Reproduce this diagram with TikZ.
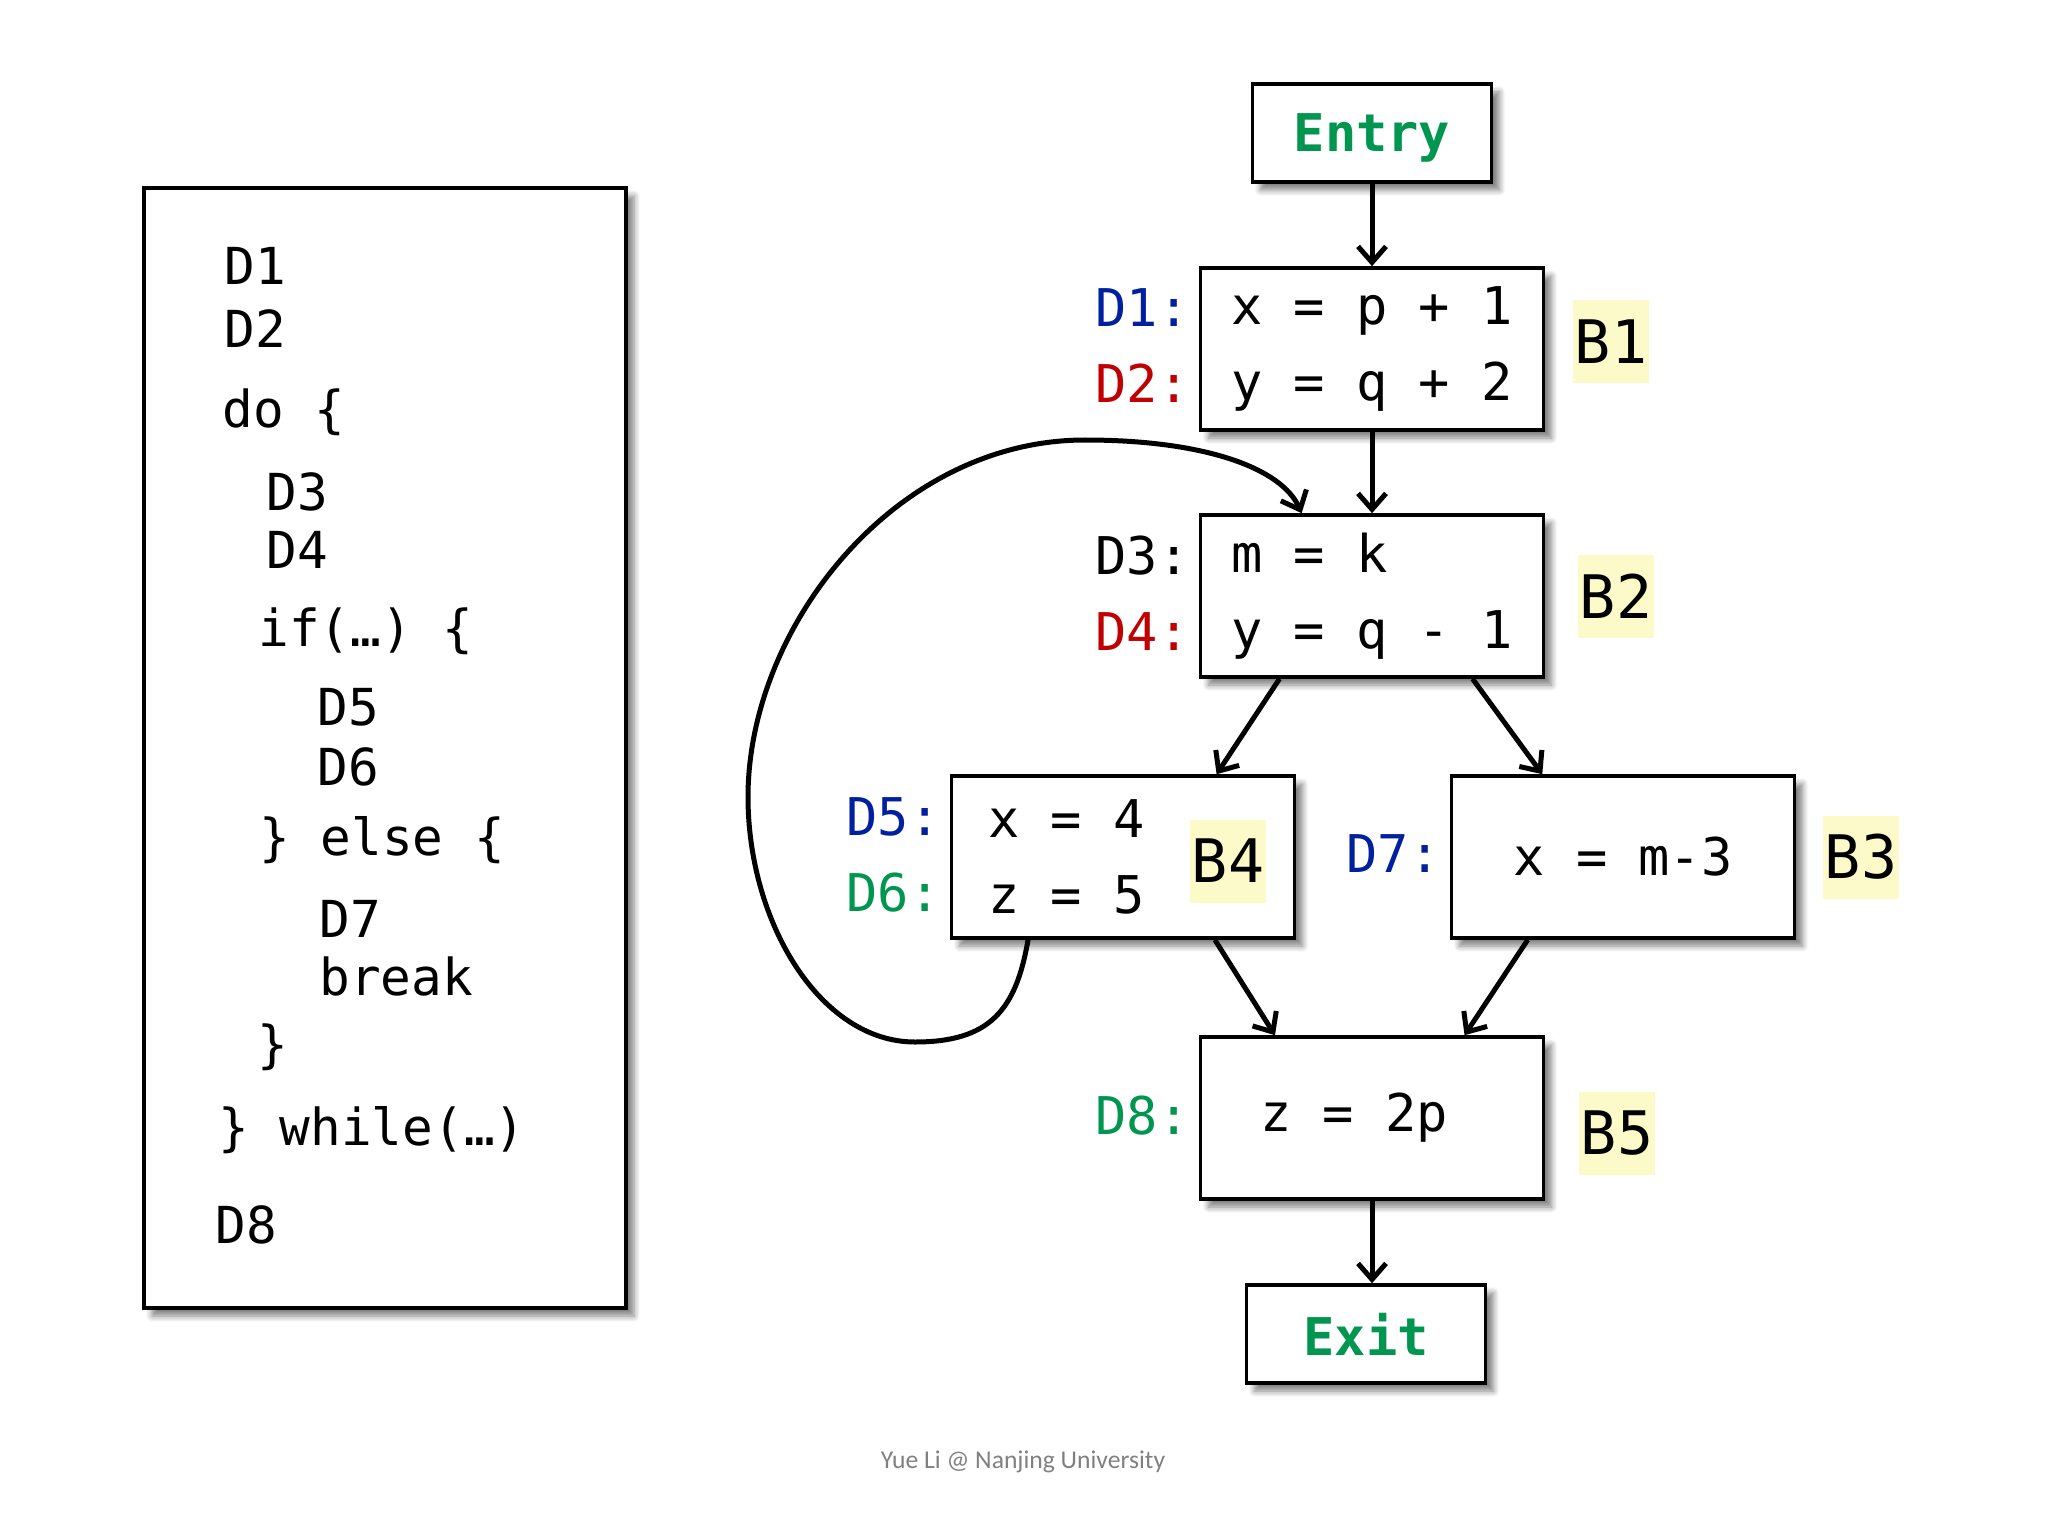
\documentclass[tikz,border=0pt]{standalone}
\usepackage{fontspec}
\usepackage{xcolor}
\usepackage{tikz}
\usetikzlibrary{arrows.meta,calc,shadows.blur}
\setmainfont{Carlito}
\newfontfamily\monofont{DejaVu Sans Mono}
\definecolor{defblue}{RGB}{0,32,160}
\definecolor{defred}{RGB}{192,0,0}
\definecolor{defgreen}{RGB}{0,150,80}
\definecolor{markyellow}{RGB}{252,250,200}
\definecolor{footgray}{RGB}{128,128,128}

\begin{document}
\begin{tikzpicture}[x=0.5pt,y=-0.5pt,
  box/.style={draw,line width=1.8pt,fill=white,inner sep=0pt,align=left,
    font=\monofont\fontsize{26}{38}\selectfont,
    blur shadow={shadow xshift=4pt,shadow yshift=-4pt,shadow blur steps=6,shadow blur radius=3pt,shadow opacity=50}},
  block/.style={box,minimum width=171.5pt,minimum height=81pt},
  terminal/.style={box,minimum width=119.5pt,minimum height=49pt,text depth=0pt,
    font=\monofont\bfseries\fontsize{26}{30}\selectfont,text=defgreen},
  deflabel/.style={anchor=base east,inner sep=0pt,font=\monofont\fontsize{26}{30}\selectfont},
  blabel/.style={fill=markyellow,inner sep=0pt,minimum width=38pt,minimum height=41.5pt,
    font=\monofont\fontsize{30}{36}\selectfont},
  codeline/.style={anchor=base west,inner sep=0pt,font=\monofont\fontsize{25.5}{30}\selectfont},
  flow/.style={line width=2.5pt,-{Straight Barb[length=8pt,width=14pt]}}]
\useasboundingbox (0,0) rectangle (2048,1518);

% source program
\node[box,line width=1.6pt,minimum width=241pt,minimum height=560pt] (src) at (385,748) {};
\foreach \px/\py/\txt [count=\i] in {224/285/D1, 224/348/D2, 222/428/do \{, 266/510/D3, 266/568/D4,
    258/646/if(…) \{, 317/725/D5, 317/785/D6, 259/855/\} else \{, 319/937/D7, 319/995/break,
    257/1062/\}, 218/1145/\} while(…), 215/1243/D8}
  \node[codeline] (line\i) at (\px,\py) {\txt};

% basic blocks
\node[terminal] (entry) at (1372,133) {Entry};
\node[block] (b1) at (1372,349) {x = p + 1\\y = q + 2};
\node[block] (b2) at (1372,596) {m = k\\y = q - 1};
\node[block] (b4) at (1123,857) {\makebox[135pt][l]{x = 4}\\z = 5};
\node[block] (b3) at (1623,857) {x = m-3};
\node[block] (b5) at (1372,1118) {\makebox[112pt][l]{z = 2p}};
\node[terminal] (exit) at (1366,1334) {Exit};

% definitions
\node[deflabel,text=defblue] (d1) at ($(b1.west)+(-9,-22)$) {D1:};
\node[deflabel,text=defred] (d2) at ($(b1.west)+(-9,54)$) {D2:};
\node[deflabel] (d3) at ($(b2.west)+(-9,-22)$) {D3:};
\node[deflabel,text=defred] (d4) at ($(b2.west)+(-9,54)$) {D4:};
\node[deflabel,text=defblue] (d5) at ($(b4.west)+(-9,-22)$) {D5:};
\node[deflabel,text=defgreen] (d6) at ($(b4.west)+(-9,54)$) {D6:};
\node[deflabel,text=defblue] (d7) at ($(b3.west)+(-9,15)$) {D7:};
\node[deflabel,text=defgreen] (d8) at ($(b5.west)+(-9,16)$) {D8:};

% block names
\node[blabel] (n1) at (1611,342) {B1};
\node[blabel] (n2) at (1616,596) {B2};
\node[blabel] (n4) at (1228,861) {B4};
\node[blabel] (n3) at (1861,857) {B3};
\node[blabel] (n5) at (1617,1133) {B5};

% control flow
\draw[flow] (entry.south) -- (entry.south |- b1.north);
\draw[flow] (b1.south) -- (b2.north);
\draw[flow] ($(b2.south west)!0.233!(b2.south east)$) -- ($(b4.north west)!0.77!(b4.north east)$);
\draw[flow] ($(b2.south west)!0.79!(b2.south east)$) -- ($(b3.north west)!0.267!(b3.north east)$);
\draw[flow] ($(b4.south west)!0.765!(b4.south east)$) -- ($(b5.north west)!0.22!(b5.north east)$);
\draw[flow] ($(b3.south west)!0.225!(b3.south east)$) -- ($(b5.north west)!0.767!(b5.north east)$);
\draw[flow] (b5.south) -- (b5.south |- exit.north);

% back edge of the loop
\coordinate (loopbottom) at (915,1042);
\coordinate (loopleft) at (748,797);
\coordinate (looptop) at (1085,440);
\draw[flow] ($(b4.south west)!0.226!(b4.south east)$) .. controls +(-12,70) and +(75,0) .. (loopbottom)
  .. controls +(-95,0) and +(0,125) .. (loopleft)
  .. controls +(0,-170) and +(-190,0) .. (looptop)
  .. controls +(120,0) and +(-20,-45) .. ($(b2.north west)!0.297!(b2.north east)$);

\node[font=\fontsize{12.8}{15}\selectfont,text=footgray,anchor=base] (credit) at (1023,1468) {Yue Li @ Nanjing University};
\end{tikzpicture}
\end{document}
